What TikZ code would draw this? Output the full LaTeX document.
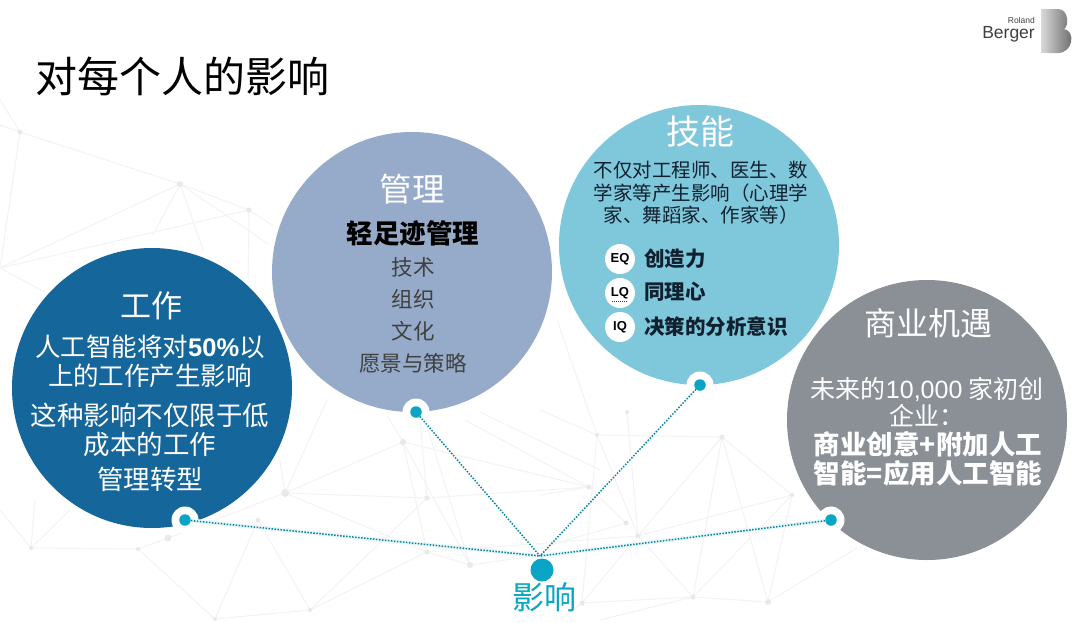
\documentclass[tikz,border=0pt]{standalone}
\usepackage{fontspec}
\setmainfont{Liberation Sans}
\newfontfamily\cjk{Noto Sans CJK SC}
\newfontfamily\latin{Liberation Sans}
\usetikzlibrary{shadings}
\definecolor{cwork}{HTML}{15669A}
\definecolor{cmanage}{HTML}{95ABC9}
\definecolor{cskill}{HTML}{7FC8DC}
\definecolor{cbiz}{HTML}{8B9097}
\definecolor{cdot}{HTML}{0AA5C4}
\definecolor{cnet}{HTML}{F3F3F3}
\definecolor{cnetdot}{HTML}{E9E9E9}
\definecolor{cdark}{HTML}{10202E}
\tikzset{
  x=1pt,y=-1pt,
  bubble/.style={circle,minimum size=280pt,inner sep=0pt},
  rim/.style={circle,fill=white,minimum size=292pt,inner sep=0pt},
  txt/.style={font=\cjk,align=center,inner sep=0pt,text=white},
  halo/.style={circle,fill=white,minimum size=27pt,inner sep=0pt},
  dotn/.style={circle,fill=cdot,minimum size=11.5pt,inner sep=0pt},
  link/.style={cdot!80!black,line width=1.5pt,dash pattern=on 1.5pt off 1.5pt},
  glow/.style={cdot!10,line width=4pt},
  net/.style={cnet,line width=1pt},
  badge/.style={circle,fill=white,minimum size=30pt,inner sep=0pt,text=black,font=\bfseries\fontsize{13}{13}\selectfont},
  skilltxt/.style={font=\cjk\bfseries\fontsize{20.5}{20.5}\selectfont,text=cdark,anchor=west,inner sep=0pt},
}
\begin{document}
\begin{tikzpicture}
\useasboundingbox (0,0) rectangle (1080,622);
\fill[white] (0,0) rectangle (1080,622);
% background network
\foreach \ax/\ay/\bx/\by in {
 0/125/20/132, 0/100/20/132, 20/132/180/184, 180/184/249/210, 20/132/0/268, 180/184/0/268, 249/210/0/268,
 180/184/153/235, 180/184/205/255, 180/184/270/245, 249/210/248/290, 249/210/280/230, 0/268/50/295,
 0/510/31/548, 35/500/31/548, 70/510/31/548, 31/548/138/549, 138/549/168/538, 168/538/285/493,
 285/493/403/442, 285/493/427/552, 427/552/470/565, 285/493/427/498, 403/442/427/552, 403/442/470/565,
 427/498/310/610, 427/552/310/610, 258/520/215/619, 258/520/310/610, 310/610/215/619, 138/549/215/619,
 285/493/275/430, 285/493/327/400, 403/442/589/487, 427/498/589/487, 427/552/638/536, 470/565/540/555,
 403/442/385/412, 427/498/420/420, 470/565/425/420, 480/412/600/470, 465/420/589/487,
 722/437/638/536, 722/437/693/597, 722/437/597/435, 722/437/792/495, 722/437/768/602, 792/495/638/536,
 638/536/693/597, 638/536/597/435, 627/412/638/536, 597/435/582/603, 589/487/626/523, 626/523/540/548,
 582/603/693/597, 693/597/768/602, 693/597/792/495, 768/602/792/495, 768/602/870/540, 582/603/638/536,
 557/320/597/435, 597/435/540/410, 589/487/540/495, 582/603/560/620, 693/597/600/620}{
  \draw[net] (\ax,\ay) -- (\bx,\by);
}
\foreach \px/\py/\r in {20/132/2.5, 180/184/3, 249/210/2.5, 285/493/4, 403/442/3, 427/498/2.5, 427/552/2.5, 470/565/3,
 258/520/2.5, 310/610/2, 215/619/2, 31/548/2, 138/549/2, 168/538/3.5,
 627/412/2, 597/435/2, 722/437/2.5, 589/487/2.5, 626/523/2.5, 638/536/2.5, 582/603/2.5, 693/597/2.5, 768/602/3, 792/495/2}{
  \fill[cnetdot] (\px,\py) circle[radius=\r];
}
% main bubbles
\node[rim] (workrim) at (152,388) {};
\node[rim] (managerim) at (412,272) {};
\node[rim] (skillrim) at (699,245) {};
\node[rim] (bizrim) at (927,420) {};
\node[bubble,fill=cwork] (work) at (152,388) {};
\node[bubble,fill=cmanage] (manage) at (412,272) {};
\node[bubble,fill=cskill] (skill) at (699,245) {};
\node[bubble,fill=cbiz] (biz) at (927,420) {};
% title
\node[txt,text=black,anchor=west,font=\cjk\fontsize{42}{42}\selectfont] (title) at (35,76) {对每个人的影响};
% logo
\node[font=\fontsize{8.5}{8.5}\selectfont,text=black!75,anchor=east,inner sep=0pt] (roland) at (1035,20) {Roland};
\node[font=\fontsize{17.5}{17.5}\selectfont,text=black!75,anchor=east,inner sep=0pt] (berger) at (1035,34) {Berger};
\shade[left color=black!15,right color=black!62]
  (1041,9) -- (1058,9) .. controls (1069,9) and (1069,27) .. (1064,29)
  .. controls (1076,31) and (1073,53) .. (1058,53) -- (1041,53) -- cycle;
% work text
\node[txt,font=\cjk\fontsize{31}{31}\selectfont] (w1) at (151,306) {工作};
\node[txt,font=\cjk\fontsize{25.5}{29}\selectfont] (w2) at (150,361.5) {人工智能将对{\latin\bfseries 50\%}以\\上的工作产生影响};
\node[txt,font=\cjk\fontsize{26.5}{29}\selectfont] (w3) at (150,429.5) {这种影响不仅限于低\\成本的工作};
\node[txt,font=\cjk\fontsize{26.5}{26.5}\selectfont] (w4) at (150,479) {管理转型};
% manage text
\node[txt,font=\cjk\fontsize{32.5}{32.5}\selectfont] (m1) at (412,189) {管理};
\node[txt,text=black,font=\cjk\bfseries\fontsize{26.5}{26.5}\selectfont] (m2) at (413,233) {轻足迹管理};
\node[txt,text=black!75,font=\cjk\fontsize{21.5}{21.5}\selectfont] (m3) at (413,267) {技术};
\node[txt,text=black!75,font=\cjk\fontsize{21.5}{21.5}\selectfont] (m4) at (413,299) {组织};
\node[txt,text=black!75,font=\cjk\fontsize{21.5}{21.5}\selectfont] (m5) at (413,331) {文化};
\node[txt,text=black!75,font=\cjk\fontsize{21.5}{21.5}\selectfont] (m6) at (413,363) {愿景与策略};
% skill text
\node[txt,font=\cjk\fontsize{34}{34}\selectfont] (s1) at (700,132) {技能};
\node[txt,text=cdark,font=\cjk\fontsize{19.5}{22.5}\selectfont] (s2) at (701,193) {不仅对工程师、医生、数\\学家等产生影响（心理学\\家、舞蹈家、作家等）};
\node[badge] (eq) at (620,259) {EQ};
\node[badge] (lq) at (620,293) {LQ};
\node[badge] (iq) at (620,327) {IQ};
\draw[red!70!black,line width=0.6pt,dash pattern=on 1pt off 1pt] (612,301) -- (628,301);
\node[skilltxt] (e) at (644,259) {创造力};
\node[skilltxt] (l) at (644,292) {同理心};
\node[skilltxt] (i) at (644,327) {决策的分析意识};
% biz text
\node[txt,font=\cjk\fontsize{32}{32}\selectfont] (b1) at (928,323) {商业机遇};
\node[txt,font=\cjk\fontsize{25}{27}\selectfont] (b2) at (927,402) {未来的{\latin 10,000} 家初创\\企业：};
\node[txt,font=\cjk\bfseries\fontsize{26.5}{29}\selectfont] (b3) at (928,458.5) {商业创意+附加人工\\智能=应用人工智能};
% connectors
\node[halo] (hw) at (185,520) {};
\node[halo] (hm) at (416,412) {};
\node[halo] (hs) at (700,385) {};
\node[halo] (hb) at (831,520) {};
\coordinate (junction) at (540,556);
\node[dotn,minimum size=23pt] (hub) at (542,570) {};
\node[dotn] (dw) at (185,520) {};
\node[dotn] (dm) at (416,412) {};
\node[dotn] (ds) at (700,385) {};
\node[dotn] (db) at (831,520) {};
\draw[glow] (dw) -- (junction);
\draw[glow] (db) -- (junction);
\draw[link] (dw) -- (junction);
\draw[link] (dm) -- (junction);
\draw[link] (ds) -- (junction);
\draw[link] (db) -- (junction);
\node[txt,text=cdot,font=\cjk\fontsize{32}{32}\selectfont] (impact) at (544,597) {影响};
\end{tikzpicture}
\end{document}
